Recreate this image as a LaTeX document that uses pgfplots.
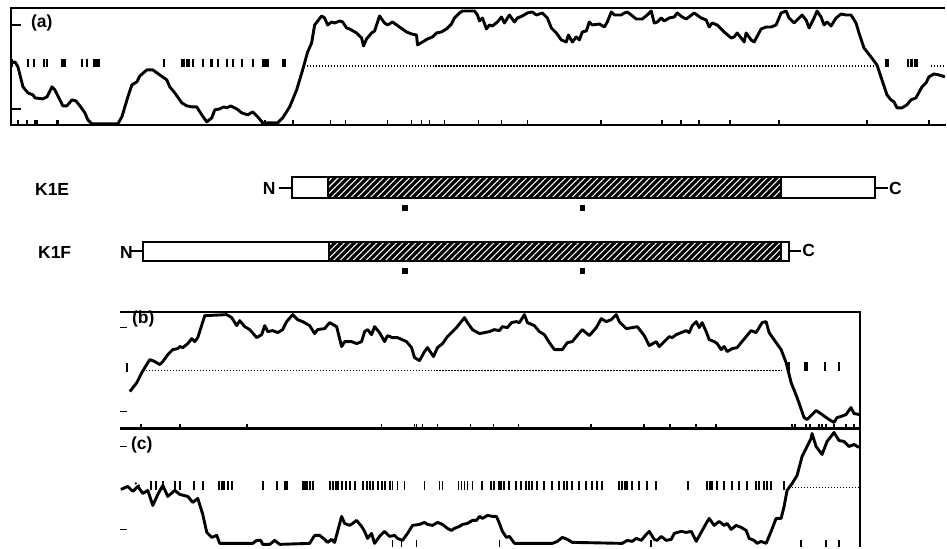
\documentclass[border=0pt]{standalone}
\usepackage{fontspec}
\setmainfont{Liberation Sans}
\usepackage{pgfplots}
\pgfplotsset{compat=1.18}
\usetikzlibrary{patterns.meta}
\tikzset{
  frame/.style={black, line width=2.2pt},
  curve/.style={black, line width=2.9pt, line join=round},
  dotl/.style={black, line width=1.2pt, dash pattern=on 1.4pt off 1.6pt},
  tk/.style={black, line width=1.7pt},
  lab/.style={font=\fontsize{17.5}{20}\selectfont\bfseries, inner sep=0pt}}
\pgfplotsset{bars/.style={black, only marks, mark=|, mark size=4.2pt, mark options={line width=1.9pt}}}
\begin{document}
\begin{tikzpicture}
\begin{axis}[scale only axis, width=947pt, height=548pt,
  xmin=0, xmax=947, ymin=0, ymax=548, y dir=reverse,
  hide axis, clip=false]
% bounding box
\addplot[draw=none] coordinates {(0,0) (947,548)};

% ================= panel (a) =================
\addplot[frame] coordinates {(946,8) (11,8) (11,125) (947,125)};
\addplot[tk] coordinates {(11,25) (21,25)};
\addplot[tk] coordinates {(11,109) (21,109)};
\foreach \xx in {18,27,35,37,57,58,262,265,293,331,346,388,412,422,430,445,479,502,528,602,663,682,700,731,780,868,930}{
  \edef\temp{\noexpand\addplot[tk] coordinates {(\xx,125) (\xx,120)};}\temp
}
\addplot[dotl] coordinates {(307,66) (877,66)};
\addplot[dotl] coordinates {(932,66) (946,66)};
\addplot[bars] coordinates {(12,63) (28,63) (34,63) (44,63) (47,63) (62,63) (63,63) (65,63) (82,63) (87,63) (94,63) (96,63) (98,63) (99,63)
 (164,63) (182,63) (184,63) (187,63) (189,63) (193,63) (203,63) (211,63) (212,63) (218,63) (227,63) (233,63) (242,63) (253,63) (263,63) (265,63) (267,63) (268,63) (283,63) (284,63) (285,63)
 (887,63) (889,63) (909,63) (912,63) (913,63) (916,63) (918,63)};
\addplot[curve] coordinates {
(11,63) (15,62) (18,67) (23,87) (28,93) (33,95) (35,98) (43,99) (47,97) (52,87) (55,90) (60,100) (63,106) (67,106) (72,100) (76,101) (80,106) (85,113) (88,120) (92,124) (118,124) (122,117) (128,97) (132,85) (137,82) (140,76) (147,70) (153,70) (160,75) (167,80) (170,87) (175,93) (182,103) (187,106) (192,107) (197,107) (202,115) (207,122) (212,118) (215,110) (220,109) (224,107) (227,108) (231,106) (237,109) (242,113) (248,115) (253,112) (258,117) (263,123) (278,123) (283,118) (290,107) (297,90) (303,70) (308,52) (312,43) (315,25)
(322,16) (325,18) (328,25) (332,22) (335,23) (340,21) (343,22) (347,28) (350,29) (357,33) (362,38) (364,46) (367,39) (372,33) (375,31) (380,16) (385,23) (388,25) (393,22) (400,27) (407,32) (412,34) (417,35) (418,45) (423,42) (428,39) (433,37) (437,33) (442,32) (447,29) (452,24) (455,18) (460,13) (463,11) (475,11) (478,15) (480,21) (483,18) (487,29) (490,25) (493,26) (498,22) (502,17) (505,23) (510,15) (515,22) (518,18) (523,16) (528,13) (533,12) (537,15) (543,13) (548,18) (552,28) (557,33) (562,40) (567,42) (569,35) (573,42) (577,37) (580,40) (583,32) (587,31) (590,22) (593,25) (600,24) (605,27) (608,22) (612,12) (615,15) (622,15) (625,13) (628,12) (632,15) (637,19) (643,19) (648,15) (652,11) (655,23) (658,22) (662,18) (665,21) (670,18) (675,17) (678,13) (683,17) (687,19) (695,13) (702,18) (707,20) (710,27) (713,23) (718,25) (725,32) (732,38) (735,37) (738,33) (742,38) (745,42) (747,33) (752,40) (755,42) (762,29) (767,27) (772,27) (777,25) (782,13) (787,11) (790,18) (795,23) (800,18) (803,15) (807,20) (810,28) (815,18) (818,11) (822,17) (825,25) (828,22) (832,26) (837,18) (842,14) (847,15) (852,15) (857,23) (860,33) (865,48) (872,57) (878,65) (883,80) (888,95) (892,100) (895,102) (898,108) (903,108) (908,105) (912,100) (917,98) (923,87) (927,83) (930,77) (935,74) (940,75) (946,77)};
\node[lab, anchor=west] at (axis cs:31,23) {(a)};

% ================= construct diagrams =================
\node[lab, anchor=west] at (axis cs:35,190) {K1E};
\node[lab, anchor=west] at (axis cs:38,253) {K1F};
% K1E
\addplot[fill=white, draw=none] coordinates {(292,177) (328,177) (328,198) (292,198)} --cycle;
\addplot[fill=black, draw=none, postaction={pattern={Lines[angle=45,distance=4.6pt,line width=1.1pt]}, pattern color=white}] coordinates {(328,177) (782,177) (782,198) (328,198)} --cycle;
\addplot[fill=white, draw=none] coordinates {(782,177) (876,177) (876,198) (782,198)} --cycle;
\addplot[frame] coordinates {(292,177) (876,177) (876,198) (292,198)} --cycle;
\addplot[frame] coordinates {(328,177) (328,198)};
\addplot[frame] coordinates {(782,177) (782,198)};
\addplot[frame] coordinates {(279,188) (292,188)};
\addplot[frame] coordinates {(876,188) (889,188)};
\node[lab, anchor=east] at (axis cs:276,189) {N};
\node[lab, anchor=west] at (axis cs:890,189) {C};
\addplot[black, only marks, mark=square*, mark size=2.2pt] coordinates {(405,208) (583,208)};
% K1F
\addplot[fill=white, draw=none] coordinates {(143,242) (329,242) (329,261) (143,261)} --cycle;
\addplot[fill=black, draw=none, postaction={pattern={Lines[angle=45,distance=4.6pt,line width=1.1pt]}, pattern color=white}] coordinates {(329,242) (782,242) (782,261) (329,261)} --cycle;
\addplot[fill=white, draw=none] coordinates {(782,242) (790,242) (790,261) (782,261)} --cycle;
\addplot[frame] coordinates {(143,242) (790,242) (790,261) (143,261)} --cycle;
\addplot[frame] coordinates {(329,242) (329,261)};
\addplot[frame] coordinates {(782,242) (782,261)};
\addplot[frame] coordinates {(131,251) (143,251)};
\addplot[frame] coordinates {(790,251) (802,251)};
\node[lab, anchor=east] at (axis cs:133,253) {N};
\node[lab, anchor=west] at (axis cs:803,251) {C};
\addplot[black, only marks, mark=square*, mark size=2.2pt] coordinates {(405,271) (583,271)};

% ================= panel (b) =================
\addplot[frame] coordinates {(120,312) (861,312) (861,548)};
\addplot[frame] coordinates {(120,429) (861,429)};
\addplot[tk] coordinates {(120,328) (127,328)};
\addplot[tk] coordinates {(120,412) (127,412)};
\addplot[tk] coordinates {(120,447) (127,447)};
\addplot[tk] coordinates {(120,530) (127,530)};
\foreach \xx in {141,180,247,382,415,417,423,438,471,494,519,592,645,671,697,717,793,796,807,811,820,823,827,835,847,855}{
  \edef\temp{\noexpand\addplot[tk] coordinates {(\xx,429) (\xx,424)};}\temp
}
\addplot[dotl] coordinates {(143,371) (783,371)};
\addplot[bars] coordinates {(127,368) (790,367) (806,367) (808,367) (826,367) (840,367)};
\addplot[curve] coordinates {
(130,392) (137,383) (142,373) (145,368) (150,360) (155,362) (160,365) (163,362) (168,355) (173,350) (178,349) (180,347) (183,348) (188,344) (192,339) (195,342) (198,338) (205,316) (227,315) (232,318) (237,326) (240,321) (245,327) (250,330) (257,338) (262,335) (265,326) (268,332) (273,331) (278,333) (283,330) (287,322) (293,315) (298,320) (303,322) (310,326) (315,334) (318,330) (325,329) (330,323) (337,327) (342,347) (345,342) (352,342) (357,344) (362,342) (365,332) (368,330) (372,335) (375,327) (380,333) (385,342) (388,336) (393,338) (398,338) (407,342) (412,348) (415,358) (420,361) (425,352) (428,348) (434,357) (438,348) (443,344) (448,337) (457,328) (465,318) (468,323) (473,330) (480,334) (490,332) (495,330) (500,331) (503,327) (508,328) (512,323) (517,322) (520,323) (525,315) (528,323) (535,326) (540,332) (545,335) (550,343) (555,350) (563,350) (568,343) (573,342) (577,337) (583,330) (590,336) (597,328) (602,319) (607,322) (612,320) (617,315) (620,322) (627,329) (633,328) (638,327) (645,336) (650,346) (657,342) (660,347) (665,342) (670,337) (673,338) (677,335) (682,333) (687,331) (690,333) (693,326) (697,322) (700,328) (703,323) (707,332) (710,340) (715,342) (718,344) (722,350) (725,347) (728,352) (733,349) (738,348) (742,343) (747,337) (752,331) (757,333) (763,323) (767,322) (770,333) (777,343) (782,350) (787,363) (792,383) (798,398) (805,418) (808,420) (817,411) (823,415) (830,420) (835,423) (838,418) (842,417) (847,415) (852,408) (855,414) (860,415)};
\node[lab, anchor=west] at (axis cs:132,319) {(b)};

% ================= panel (c) =================
\foreach \xx in {393,402,417,500,652,802,827,840}{
  \edef\temp{\noexpand\addplot[tk] coordinates {(\xx,548) (\xx,541)};}\temp
}
\addplot[dotl] coordinates {(793,488) (861,488)};
\addplot[black, only marks, mark=*, mark size=0.9pt] coordinates {(136,484) (139,486)};
\addplot[bars] coordinates {(151,486) (156,486) (163,486) (175,486) (180,486) (194,486) (203,486) (219,486) (222,486) (224,486) (228,486) (232,486) (263,486) (277,486) (285,486) (287,486) (303,486) (305,486) (307,486) (310,486) (313,486) (330,486) (333,486) (336,486) (338,486) (342,486) (346,486) (350,486) (355,486) (363,486) (367,486) (370,486) (373,486) (378,486) (382,486) (385,486) (390,486) (393,486) (398,486) (405,486) (425,486) (440,486) (443,486) (459,486) (462,486) (465,486) (468,486) (473,486) (483,486) (492,486) (495,486) (500,486) (502,486) (505,486) (510,486) (517,486) (522,486) (527,486) (530,486) (533,486) (538,486) (545,486)
(553,486) (560,486) (565,486) (568,486) (573,486) (580,486) (587,486) (593,486) (598,486) (603,486) (620,486) (623,486) (626,486) (628,486) (633,486) (640,486) (648,486) (657,486) (689,486) (708,486) (711,486) (713,486) (718,486) (725,486) (733,486) (740,486) (748,486) (757,486) (760,486) (765,486) (768,486) (772,486) (785,486)};
\addplot[curve] coordinates {
(121,490) (128,487) (133,492) (138,487) (143,494) (148,491) (153,506) (158,495) (163,486) (168,497) (175,491) (180,495) (188,497) (193,503) (198,499) (203,515) (207,533) (212,538) (217,536) (220,544) (253,544) (257,541) (261,541) (263,545) (270,545) (275,541) (280,545) (310,544) (315,536) (320,536) (325,540) (328,543) (332,540) (335,543) (338,532) (342,517) (345,524) (350,526) (353,524) (357,521) (362,527) (365,532) (368,539) (372,534) (375,544) (380,537) (385,532) (390,537) (395,536) (398,539) (403,541) (408,534) (413,526) (420,525) (425,523) (428,525) (433,526) (438,523) (443,525) (448,529) (452,531) (455,529) (460,527) (463,525) (468,524) (473,521) (477,521) (480,517) (483,519) (488,516) (493,517) (497,517) (500,524) (503,532) (507,538) (510,537) (515,544) (553,544) (558,542) (563,538) (568,540) (573,543) (623,544) (628,541) (633,542) (637,539) (642,541) (647,535) (650,532) (655,540) (658,541) (662,537) (667,541) (672,540) (675,534) (682,532) (687,533) (692,532) (697,542) (702,533) (707,524) (710,519) (715,526) (720,522) (725,526) (728,524) (732,530) (737,526) (742,528) (747,531) (750,539) (755,541) (758,544) (762,542) (767,544) (772,532) (777,519) (782,519) (785,507) (788,491) (793,484) (798,476) (803,457) (807,449) (812,439) (813,434) (817,447) (823,455) (828,442) (835,433) (840,441) (845,442) (850,447) (855,445) (860,448)};
\node[lab, anchor=west] at (axis cs:131,445) {(c)};
\end{axis}
\end{tikzpicture}
\end{document}
